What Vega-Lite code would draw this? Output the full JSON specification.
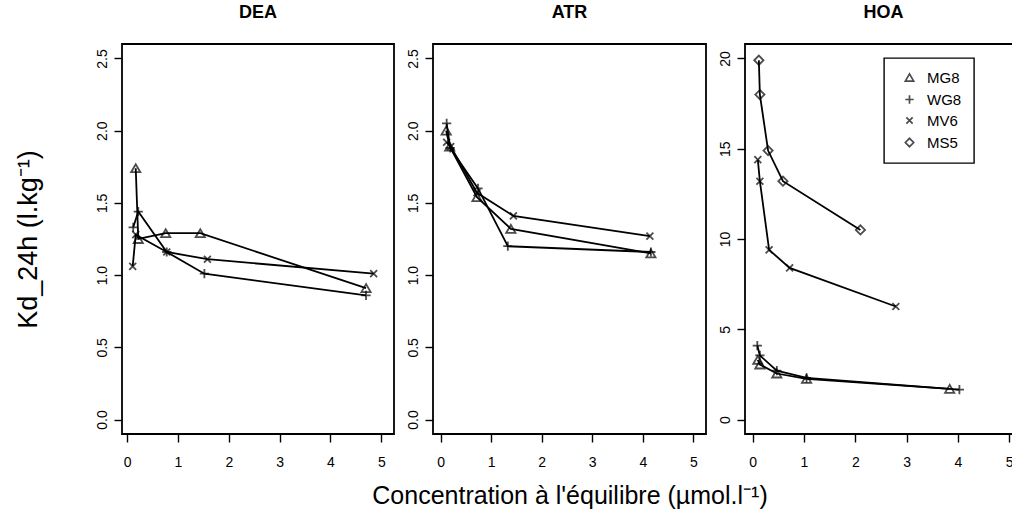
{
  "$schema": "https://vega.github.io/schema/vega-lite/v6.json",
  "padding": {"left": 13, "top": 3, "right": 0, "bottom": 0},
  "bounds": "flush",
  "spacing": 39,
  "datasets": {
    "kd": [
      {"panel": "DEA", "series": "MG8", "conc": 0.17, "kd": 1.74},
      {"panel": "DEA", "series": "MG8", "conc": 0.22, "kd": 1.25},
      {"panel": "DEA", "series": "MG8", "conc": 0.76, "kd": 1.29},
      {"panel": "DEA", "series": "MG8", "conc": 1.44, "kd": 1.29},
      {"panel": "DEA", "series": "MG8", "conc": 4.70, "kd": 0.91},
      {"panel": "DEA", "series": "WG8", "conc": 0.12, "kd": 1.33},
      {"panel": "DEA", "series": "WG8", "conc": 0.22, "kd": 1.44},
      {"panel": "DEA", "series": "WG8", "conc": 0.78, "kd": 1.16},
      {"panel": "DEA", "series": "WG8", "conc": 1.52, "kd": 1.01},
      {"panel": "DEA", "series": "WG8", "conc": 4.70, "kd": 0.86},
      {"panel": "DEA", "series": "MV6", "conc": 0.11, "kd": 1.06},
      {"panel": "DEA", "series": "MV6", "conc": 0.17, "kd": 1.28},
      {"panel": "DEA", "series": "MV6", "conc": 0.78, "kd": 1.16},
      {"panel": "DEA", "series": "MV6", "conc": 1.58, "kd": 1.11},
      {"panel": "DEA", "series": "MV6", "conc": 4.85, "kd": 1.01},
      {"panel": "ATR", "series": "MG8", "conc": 0.11, "kd": 2.00},
      {"panel": "ATR", "series": "MG8", "conc": 0.18, "kd": 1.89},
      {"panel": "ATR", "series": "MG8", "conc": 0.72, "kd": 1.54},
      {"panel": "ATR", "series": "MG8", "conc": 1.39, "kd": 1.32},
      {"panel": "ATR", "series": "MG8", "conc": 4.16, "kd": 1.15},
      {"panel": "ATR", "series": "WG8", "conc": 0.12, "kd": 2.05},
      {"panel": "ATR", "series": "WG8", "conc": 0.19, "kd": 1.88},
      {"panel": "ATR", "series": "WG8", "conc": 0.74, "kd": 1.60},
      {"panel": "ATR", "series": "WG8", "conc": 1.33, "kd": 1.20},
      {"panel": "ATR", "series": "WG8", "conc": 4.16, "kd": 1.16},
      {"panel": "ATR", "series": "MV6", "conc": 0.12, "kd": 1.92},
      {"panel": "ATR", "series": "MV6", "conc": 0.20, "kd": 1.89},
      {"panel": "ATR", "series": "MV6", "conc": 0.72, "kd": 1.57},
      {"panel": "ATR", "series": "MV6", "conc": 1.44, "kd": 1.41},
      {"panel": "ATR", "series": "MV6", "conc": 4.14, "kd": 1.27},
      {"panel": "HOA", "series": "MS5", "conc": 0.12, "kd": 19.9},
      {"panel": "HOA", "series": "MS5", "conc": 0.14, "kd": 18.0},
      {"panel": "HOA", "series": "MS5", "conc": 0.30, "kd": 14.9},
      {"panel": "HOA", "series": "MS5", "conc": 0.59, "kd": 13.2},
      {"panel": "HOA", "series": "MS5", "conc": 2.10, "kd": 10.5},
      {"panel": "HOA", "series": "MV6", "conc": 0.10, "kd": 14.4},
      {"panel": "HOA", "series": "MV6", "conc": 0.14, "kd": 13.2},
      {"panel": "HOA", "series": "MV6", "conc": 0.32, "kd": 9.4},
      {"panel": "HOA", "series": "MV6", "conc": 0.72, "kd": 8.4},
      {"panel": "HOA", "series": "MV6", "conc": 2.79, "kd": 6.26},
      {"panel": "HOA", "series": "WG8", "conc": 0.09, "kd": 4.1},
      {"panel": "HOA", "series": "WG8", "conc": 0.14, "kd": 3.55},
      {"panel": "HOA", "series": "WG8", "conc": 0.47, "kd": 2.71},
      {"panel": "HOA", "series": "WG8", "conc": 1.05, "kd": 2.31},
      {"panel": "HOA", "series": "WG8", "conc": 4.03, "kd": 1.66},
      {"panel": "HOA", "series": "MG8", "conc": 0.10, "kd": 3.3},
      {"panel": "HOA", "series": "MG8", "conc": 0.14, "kd": 3.05},
      {"panel": "HOA", "series": "MG8", "conc": 0.47, "kd": 2.55},
      {"panel": "HOA", "series": "MG8", "conc": 1.05, "kd": 2.25},
      {"panel": "HOA", "series": "MG8", "conc": 3.84, "kd": 1.70}
    ]
  },
  "hconcat": [
    {
      "width": 272, "height": 390,
      "title": {"text": "DEA"},
      "data": {"name": "kd"},
      "transform": [{"filter": "datum.panel === 'DEA'"}],
      "layer": [
        {
          "mark": {"type": "line", "color": "black", "strokeWidth": 1.8},
          "encoding": {
            "x": {"field": "conc", "type": "quantitative", "scale": {"domain": [-0.1, 5.25], "nice": false, "zero": false}, "axis": {"values": [0, 1, 2, 3, 4, 5], "title": null}},
            "y": {"field": "kd", "type": "quantitative", "scale": {"domain": [-0.1, 2.6], "nice": false, "zero": false}, "axis": {"values": [0, 0.5, 1, 1.5, 2, 2.5], "format": ".1f", "title": "Kd_24h (l.kg⁻¹)", "titleFontSize": 27, "titlePadding": 53}},
            "detail": {"field": "series"}
          }
        },
        {
          "mark": {"type": "point", "filled": false, "color": "black", "size": 85, "strokeWidth": 1.8},
          "encoding": {
            "x": {"field": "conc", "type": "quantitative"},
            "y": {"field": "kd", "type": "quantitative"},
            "shape": {"field": "series", "type": "nominal", "scale": {"domain": ["MG8", "WG8", "MV6", "MS5"], "range": ["triangle-up", "M-1,0L1,0M0,-1L0,1", "M-0.75,-0.75L0.75,0.75M-0.75,0.75L0.75,-0.75", "diamond"]}, "legend": null}
          }
        }
      ]
    },
    {
      "width": 273, "height": 390,
      "title": {"text": "ATR"},
      "data": {"name": "kd"},
      "transform": [{"filter": "datum.panel === 'ATR'"}],
      "layer": [
        {
          "mark": {"type": "line", "color": "black", "strokeWidth": 1.8},
          "encoding": {
            "x": {"field": "conc", "type": "quantitative", "scale": {"domain": [-0.15, 5.25], "nice": false, "zero": false}, "axis": {"values": [0, 1, 2, 3, 4, 5], "title": "Concentration à l'équilibre (µmol.l⁻¹)", "titleFontSize": 25, "titlePadding": 14}},
            "y": {"field": "kd", "type": "quantitative", "scale": {"domain": [-0.1, 2.6], "nice": false, "zero": false}, "axis": {"values": [0, 0.5, 1, 1.5, 2, 2.5], "format": ".1f", "title": null}},
            "detail": {"field": "series"}
          }
        },
        {
          "mark": {"type": "point", "filled": false, "color": "black", "size": 85, "strokeWidth": 1.8},
          "encoding": {
            "x": {"field": "conc", "type": "quantitative"},
            "y": {"field": "kd", "type": "quantitative"},
            "shape": {"field": "series", "type": "nominal", "scale": {"domain": ["MG8", "WG8", "MV6", "MS5"], "range": ["triangle-up", "M-1,0L1,0M0,-1L0,1", "M-0.75,-0.75L0.75,0.75M-0.75,0.75L0.75,-0.75", "diamond"]}, "legend": null}
          }
        }
      ]
    },
    {
      "width": 277, "height": 390,
      "title": {"text": "HOA"},
      "data": {"name": "kd"},
      "transform": [{"filter": "datum.panel === 'HOA'"}],
      "layer": [
        {
          "mark": {"type": "line", "color": "black", "strokeWidth": 1.8},
          "encoding": {
            "x": {"field": "conc", "type": "quantitative", "scale": {"domain": [-0.15, 5.25], "nice": false, "zero": false}, "axis": {"values": [0, 1, 2, 3, 4, 5], "title": null}},
            "y": {"field": "kd", "type": "quantitative", "scale": {"domain": [-0.8, 20.8], "nice": false, "zero": false}, "axis": {"values": [0, 5, 10, 15, 20], "format": "d", "title": null}},
            "detail": {"field": "series"}
          }
        },
        {
          "mark": {"type": "point", "filled": false, "color": "black", "size": 85, "strokeWidth": 1.8},
          "encoding": {
            "x": {"field": "conc", "type": "quantitative"},
            "y": {"field": "kd", "type": "quantitative"},
            "shape": {"field": "series", "type": "nominal", "scale": {"domain": ["MG8", "WG8", "MV6", "MS5"], "range": ["triangle-up", "M-1,0L1,0M0,-1L0,1", "M-0.75,-0.75L0.75,0.75M-0.75,0.75L0.75,-0.75", "diamond"]},
              "legend": {"orient": "none", "legendX": 139, "legendY": 14, "title": null, "strokeColor": "black", "padding": 12, "labelFontSize": 15, "labelColor": "black", "symbolSize": 70, "rowPadding": 5, "symbolStrokeColor": "black", "symbolStrokeWidth": 1.7, "symbolFillColor": "transparent", "symbolOffset": 6, "labelOffset": 10}}
          }
        }
      ]
    }
  ],
  "resolve": {"scale": {"x": "independent", "y": "independent", "shape": "independent"}, "legend": {"shape": "independent"}},
  "config": {
    "font": "Liberation Sans",
    "view": {"stroke": "black", "strokeWidth": 1.8},
    "axis": {"domain": false, "grid": false, "tickColor": "black", "tickSize": 8, "tickWidth": 1.4, "labelColor": "black", "labelFontSize": 14, "titleColor": "black", "titleFontWeight": "normal", "titleFontSize": 22, "labelPadding": 13, "titlePadding": 13},
    "axisY": {"labelAngle": -90, "labelPadding": 5, "titlePadding": 55},
    "legend": {"strokeWidth": 1.4},
    "title": {"fontSize": 18, "fontWeight": "bold", "color": "black", "offset": 22}
  }
}
